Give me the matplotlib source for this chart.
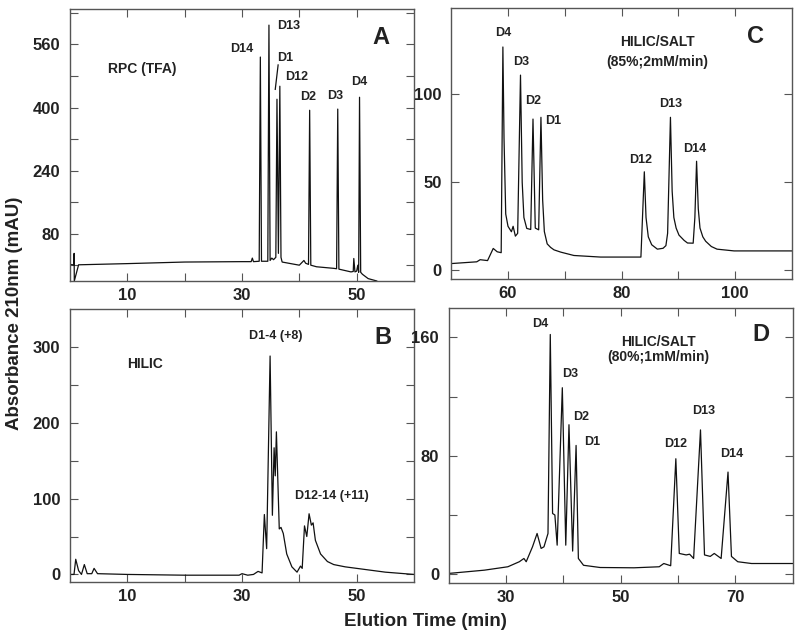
import matplotlib.pyplot as plt

plt.rcParams['font.family'] = ['Liberation Sans', 'DejaVu Sans']
plt.rcParams['font.weight'] = 'bold'

# Panel A: RPC (TFA) trace (time in min, absorbance in mAU)
rpc_time = [0, 0.5, 0.7, 0.72, 0.75, 1.5, 10, 20, 30, 31.6, 31.8, 32.0, 33.0, 33.2, 33.4,
            34.5, 34.7, 34.9, 35.2, 35.5, 35.9, 36.1, 36.35, 36.6, 36.8, 37.0, 40.0,
            40.8, 41.1, 41.6, 41.8, 42.0, 43.0, 46.0, 46.5, 46.7, 46.9, 49.0, 49.4,
            49.5, 49.7, 50.0, 50.2, 50.35, 50.5, 50.7, 51.0, 52.0, 53.5]
rpc_abs = [2, 1, 1, 30, -40, 1, 4, 8, 9, 9, 18, 9, 10, 528, 10,
           10, 609, 12, 18, 14, 20, 421, 30, 454, 20, 8, 0,
           12, 5, 2, 393, 0, -4, -8, -9, 396, -10, -17, -16,
           17, -17, -15, 0, -18, 426, -18, -23, -34, -40]

# Panel B: HILIC
hilic_time = [0, 0.7, 1.0, 1.5, 2.0, 2.5, 3.0, 3.8, 4.2, 4.8, 10, 20, 29.5, 30, 31, 32,
              32.8, 33.5, 33.9, 34.3, 34.9, 35.3, 35.6, 35.8, 36.0, 36.5, 36.8, 37.2,
              37.8, 38.7, 39.6, 40.2, 40.5, 40.9, 41.3, 41.7, 42.1, 42.4, 42.8, 43.7,
              44.9, 46.0, 48.0, 50.0, 55.0, 60.0]
hilic_abs = [0, 0, 20, 5, 0, 13, 1, 1, 8, 1, 0, -1, -1, 1, -1, 0,
             4, 2, 79, 34, 288, 78, 167, 130, 188, 60, 62, 54,
             27, 10, 3, 11, 8, 64, 50, 80, 65, 68, 45, 27,
             17, 13, 10, 8, 3, 0]

# Panel C: HILIC/SALT (85%; 2mM/min)
salt85_time = [50, 54.5, 55.1, 56.4, 57.4, 58.1, 58.8, 59.1, 59.3, 59.6, 60.0, 60.6,
               60.9, 61.3, 61.7, 62.2, 62.5, 62.8, 63.3, 64.0, 64.4, 64.8, 65.4, 65.8,
               66.1, 66.4, 66.9, 67.5, 68.1, 69.3, 71.6, 76.3, 83.4, 84.0, 84.3, 84.7,
               85.3, 86.3, 87.3, 87.8, 88.1, 88.6, 88.9, 89.2, 89.6, 90.1, 91.0, 91.6,
               92.6, 92.9, 93.2, 93.5, 93.8, 94.3, 94.8, 95.8, 96.8, 99.8, 110]
salt85_abs = [3.8, 4.8, 6, 5.5, 12.4, 10.5, 10, 127, 75, 32, 25, 21.9,
              25, 19.4, 21, 111, 50, 30, 23.8, 23.2, 86, 24, 23, 87,
              40, 22, 15, 13, 11.6, 10.3, 8.4, 7.5, 7.5, 56, 30, 19,
              14.5, 12, 12.5, 14, 21, 87, 45, 30, 24, 20, 17, 15.5,
              15.4, 30, 62, 35, 24, 19, 16.5, 13.5, 12, 11, 11]

# Panel D: HILIC/SALT (80%; 1mM/min)
salt80_time = [20, 26.2, 30.3, 32.3, 33.1, 33.5, 34.6, 35.4, 36.1, 36.6, 37.3, 37.7,
               38.1, 38.5, 38.9, 39.8, 40.4, 40.96, 41.6, 42.2, 42.6, 43.5, 46.4, 52.3,
               56.7, 57.5, 58.7, 59.6, 60.2, 61.4, 62.0, 62.7, 63.9, 64.6, 65.6, 66.3,
               67.5, 68.7, 69.3, 70.4, 72.8, 80]
salt80_abs = [0.5, 2.7, 5, 8.4, 10.6, 8.4, 18.5, 27.5, 17.4, 18.5, 27.5, 162,
              41, 40, 19.6, 126, 19.6, 101, 15.6, 87, 10.6, 6, 4.5, 4.3,
              5, 7.2, 5.7, 78, 14, 13, 13.5, 10.6, 97.5, 13, 12, 14,
              10.6, 69, 12, 8.4, 7.2, 7.2]

# peak labels: (text, x, y) in data units
rpc_labels = [('D14', 30.0, 548), ('D13', 38.2, 607), ('D1', 37.6, 526), ('D12', 39.5, 478),
              ('D2', 41.6, 427), ('D3', 46.2, 429), ('D4', 50.4, 465)]
hilic_labels = [('D1-4 (+8)', 35.8, 315), ('D12-14 (+11)', 45.6, 104)]
salt85_labels = [('D4', 59.2, 135), ('D3', 62.3, 118.5), ('D2', 64.5, 96), ('D1', 68.0, 85),
                 ('D12', 83.4, 63), ('D13', 88.6, 94.7), ('D14', 92.8, 69)]
salt80_labels = [('D4', 36.0, 169), ('D3', 41.1, 135), ('D2', 43.1, 106.5), ('D1', 45.0, 89.6),
                 ('D12', 59.6, 88), ('D13', 64.4, 110), ('D14', 69.3, 81)]

TEXT = '#222222'
SPINE = '#555555'


def setup_axes(ax, xlim, ylim, xticks, xlabels, yticks, ylabels):
    ax.set_xlim(*xlim)
    ax.set_ylim(*ylim)
    ax.set_xticks(xticks)
    ax.set_xticklabels(xlabels)
    ax.set_yticks(yticks)
    ax.set_yticklabels(ylabels)
    ax.tick_params(direction='in', length=5.5, width=0.8, color=SPINE,
                   top=True, right=True, labelsize=12, labelcolor=TEXT)
    ax.tick_params(axis='y', pad=7)
    ax.tick_params(axis='x', pad=5)
    for s in ax.spines.values():
        s.set_color(SPINE)
        s.set_linewidth(1.0)


def draw_labels(ax, labels):
    for name, x, y in labels:
        ax.text(x, y, name, ha='center', va='center', fontsize=9, color=TEXT)


fig = plt.figure(figsize=(8, 6.4), dpi=100)
axA = fig.add_axes([0.0875, 0.561, 0.43, 0.425])
axC = fig.add_axes([0.564, 0.564, 0.426, 0.423])
axB = fig.add_axes([0.0875, 0.0906, 0.43, 0.4266])
axD = fig.add_axes([0.561, 0.089, 0.43, 0.43])

# A
axA.plot(rpc_time, rpc_abs, color='#111111', lw=0.9)
setup_axes(axA, (0, 60), (-40, 650), [10, 20, 30, 40, 50], ['10', '', '30', '', '50'],
           [0, 80, 160, 240, 320, 400, 480, 560, 640], ['', '80', '', '240', '', '400', '', '560', ''])
draw_labels(axA, rpc_labels)
axA.plot([35.8, 36.3], [446, 508], color='#111111', lw=0.9)
axA.text(12.6, 497, 'RPC (TFA)', ha='center', va='center', fontsize=10, color=TEXT)
axA.text(54.2, 578, 'A', ha='center', va='center', fontsize=17, color=TEXT)

# B
axB.plot(hilic_time, hilic_abs, color='#111111', lw=0.9)
setup_axes(axB, (0, 60), (-10, 350), [10, 20, 30, 40, 50], ['10', '', '30', '', '50'],
           [0, 50, 100, 150, 200, 250, 300], ['0', '', '100', '', '200', '', '300'])
draw_labels(axB, hilic_labels)
axB.text(13.1, 278, 'HILIC', ha='center', va='center', fontsize=10, color=TEXT)
axB.text(54.5, 313, 'B', ha='center', va='center', fontsize=17, color=TEXT)

# C
axC.plot(salt85_time, salt85_abs, color='#111111', lw=0.9)
setup_axes(axC, (50, 110), (-5, 149), [60, 70, 80, 90, 100], ['60', '', '80', '', '100'],
           [0, 50, 100], ['0', '50', '100'])
draw_labels(axC, salt85_labels)
axC.text(86.3, 130, 'HILIC/SALT', ha='center', va='center', fontsize=10, color=TEXT)
axC.text(86.3, 118.7, '(85%;2mM/min)', ha='center', va='center', fontsize=10, color=TEXT)
axC.text(103.5, 133, 'C', ha='center', va='center', fontsize=17, color=TEXT)

# D
axD.plot(salt80_time, salt80_abs, color='#111111', lw=0.9)
setup_axes(axD, (20, 80), (-6, 180), [30, 40, 50, 60, 70], ['30', '', '50', '', '70'],
           [0, 40, 80, 120, 160], ['0', '', '80', '', '160'])
draw_labels(axD, salt80_labels)
axD.text(56.6, 157, 'HILIC/SALT', ha='center', va='center', fontsize=10, color=TEXT)
axD.text(56.6, 146.5, '(80%;1mM/min)', ha='center', va='center', fontsize=10, color=TEXT)
axD.text(74.4, 162, 'D', ha='center', va='center', fontsize=17, color=TEXT)

fig.text(15 / 800, 1 - 313 / 640, 'Absorbance 210nm (mAU)', rotation=90,
         ha='center', va='center', fontsize=13.5, color=TEXT)
fig.text(425 / 800, 1 - 622 / 640, 'Elution Time (min)',
         ha='center', va='center', fontsize=13.5, color=TEXT)

fig.savefig('out.png', dpi=100)
